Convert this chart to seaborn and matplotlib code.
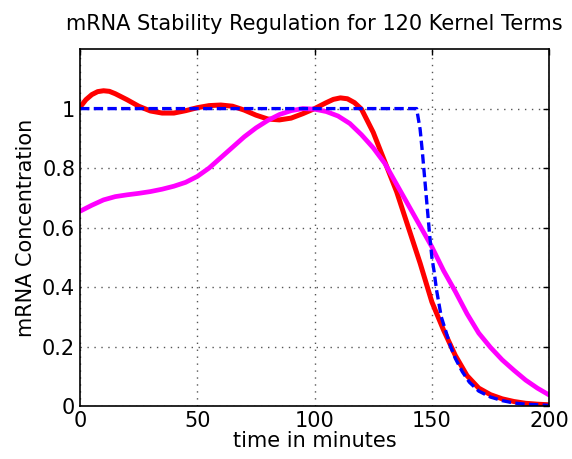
import numpy as np
import pandas as pd
import matplotlib
matplotlib.use('Agg')
import matplotlib.pyplot as plt
import seaborn as sns

# values
t_red = [0, 2.5, 5, 7.5, 10, 12.5, 15, 20, 25, 30, 35, 40, 45, 50, 55, 60, 65, 70, 75,
         80, 85, 90, 95, 100, 105, 108, 111, 114, 117, 120, 125, 130, 135, 140, 145,
         150, 155, 160, 165, 170, 175, 180, 185, 190, 195, 200]
red = [1.005, 1.03, 1.047, 1.057, 1.06, 1.058, 1.05, 1.03, 1.008, 0.992, 0.985, 0.985,
       0.993, 1.003, 1.01, 1.012, 1.008, 0.995, 0.978, 0.965, 0.962, 0.968, 0.983, 1.0,
       1.02, 1.031, 1.036, 1.033, 1.02, 0.998, 0.92, 0.82, 0.72, 0.60, 0.48, 0.35,
       0.255, 0.17, 0.102, 0.06, 0.038, 0.024, 0.015, 0.009, 0.006, 0.004]

t_mag = [0, 5, 10, 15, 20, 25, 30, 35, 40, 45, 50, 55, 60, 65, 70, 75, 80, 85, 90, 95,
         100, 105, 110, 115, 120, 125, 130, 135, 140, 145, 150, 155, 160, 165, 170, 175,
         180, 185, 190, 195, 200]
magenta = [0.655, 0.675, 0.693, 0.704, 0.71, 0.715, 0.721, 0.729, 0.739, 0.752, 0.772,
           0.80, 0.835, 0.87, 0.905, 0.935, 0.96, 0.98, 0.993, 1.0, 0.998, 0.99, 0.975,
           0.95, 0.912, 0.868, 0.815, 0.745, 0.675, 0.605, 0.535, 0.455, 0.385, 0.31,
           0.245, 0.197, 0.155, 0.12, 0.087, 0.06, 0.037]

t_blue = [0, 143.5, 145, 146, 147, 148, 149, 150, 151, 152, 154, 156, 158, 160, 163,
          166, 170, 175, 180, 185, 190, 200]
blue = [1.0, 1.0, 0.93, 0.85, 0.76, 0.67, 0.58, 0.50, 0.45, 0.39, 0.30, 0.25, 0.20,
        0.16, 0.115, 0.08, 0.05, 0.03, 0.018, 0.01, 0.006, 0.002]

ytick_vals = [0, 0.2, 0.4, 0.6, 0.8, 1]
ytick_labels = ['0', '0.2', '0.4', '0.6', '0.8', '1']
xtick_vals = [0, 50, 100, 150, 200]

sns.set_style('white', {'xtick.direction': 'in', 'ytick.direction': 'in',
                        'text.color': 'black', 'axes.labelcolor': 'black',
                        'xtick.color': 'black', 'ytick.color': 'black',
                        'axes.edgecolor': 'black'})
plt.rcParams['font.family'] = ['DejaVu Sans']

fig = plt.figure(figsize=(5.72, 4.59), dpi=100)
ax = fig.add_axes([0.14, 0.1155, 0.82, 0.7775])

sns.lineplot(x=t_red, y=red, color='red', linewidth=3.6, ax=ax)
sns.lineplot(x=t_mag, y=magenta, color='magenta', linewidth=3.4, ax=ax)
sns.lineplot(x=t_blue, y=blue, color='blue', linewidth=2.4, ax=ax,
             dashes=False)
ax.lines[-1].set_dashes((2.8, 1.3))

ax.set_xlim(0, 200)
ax.set_ylim(0, 1.2)
ax.set_xticks(xtick_vals)
ax.set_xticklabels([str(v) for v in xtick_vals])
ax.set_yticks(ytick_vals)
ax.set_yticklabels(ytick_labels)
ax.tick_params(labelsize=15, top=True, right=True, length=4, width=1, color='black')
ax.grid(True, linestyle=(0, (1, 4)), color='#555555', linewidth=1)
ax.set_axisbelow(True)
for s in ax.spines.values():
    s.set_color('black')
    s.set_linewidth(1.2)

ax.set_title('mRNA Stability Regulation for 120 Kernel Terms', fontsize=15, pad=14)
ax.set_xlabel('time in minutes', fontsize=15, labelpad=0)
ax.set_ylabel('mRNA Concentration', fontsize=15)

fig.savefig('out.png', dpi=100)
